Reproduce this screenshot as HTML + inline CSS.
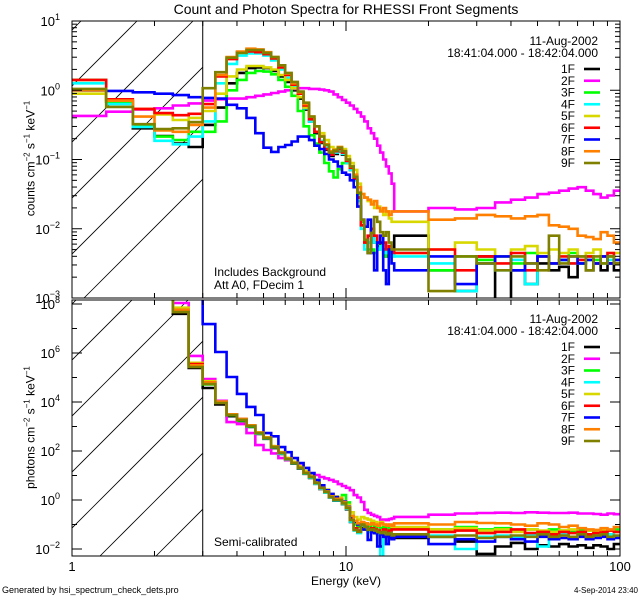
<!DOCTYPE html>
<html><head><meta charset="utf-8"><style>
html,body{margin:0;padding:0;background:#fff}
svg{display:block;font-family:"Liberation Sans",sans-serif}
</style></head><body>
<svg id="c" width="640" height="600" viewBox="0 0 640 600"></svg>
<script>
const colors=["#000000","#ff00ff","#00ff00","#00ffff","#d8d800","#ff0000","#0000ff","#ff8000","#808000"];
const names=["1F","2F","3F","4F","5F","6F","7F","8F","9F"];
// energy bins: 1-15 keV in 1/3 keV steps, 15-100 keV in 5 keV steps
const fineStart=1, fineEnd=15, fineStep=1/3, coarseEnd=100, coarseStep=5;
// top panel: log10 counts cm^-2 s^-1 keV^-1
const top1F=[0.0,-0.16,-0.55,-0.66,-0.77,-0.82,-0.5,-0.25,0.1,0.25,0.32,0.33,0.32,0.28,0.2,0.12,0.0,-0.12,-0.28,-0.45,-0.62,-0.76,-0.86,-0.95,-0.92,-0.88,-0.93,-1.05,-1.15,-1.3,-1.55,-1.95,-2.2,-2.35,-2.1,-2.2,-2.25,-2.2,-2.3,-2.4,-2.3,-2.35,-2.1,-2.6,-2.9,-2.4,-3.1,-2.6,-2.8,-2.5,-2.6,-2.55,-2.7,-2.5,-2.6,-2.5,-2.6,-2.5,-2.6];
const top2F=[-0.37,-0.31,-0.28,-0.26,-0.22,-0.19,-0.15,-0.13,-0.12,-0.12,-0.1,-0.08,-0.06,-0.04,-0.02,0.0,0.02,0.03,0.03,0.02,0.02,0.01,0.0,-0.02,-0.06,-0.1,-0.14,-0.18,-0.22,-0.27,-0.32,-0.38,-0.45,-0.55,-0.62,-0.7,-0.8,-0.9,-1.0,-1.1,-1.2,-1.35,-1.75,-1.7,-1.72,-1.7,-1.62,-1.58,-1.55,-1.5,-1.48,-1.45,-1.42,-1.4,-1.45,-1.5,-1.55,-1.52,-1.45];
const top3F=[0.15,-0.17,-0.5,-0.67,-0.72,-0.6,-0.6,-0.45,0.0,0.15,0.25,0.28,0.27,0.23,0.15,0.05,-0.08,-0.3,-0.52,-0.65,-0.77,-0.9,-1.05,-1.17,-1.26,-1.14,-1.05,-1.05,-1.12,-1.25,-1.5,-1.9,-2.2,-2.3,-2.3,-2.35,-2.3,-2.25,-2.4,-2.3,-2.35,-2.4,-2.35,-2.6,-2.4,-2.45,-2.4,-2.5,-2.35,-2.4,-2.5,-2.45,-2.35,-2.5,-2.4,-2.45,-2.5,-2.4,-2.45];
const top4F=[0.1,-0.2,-0.53,-0.73,-0.78,-0.67,-0.45,0.1,0.38,0.5,0.53,0.53,0.5,0.43,0.3,0.18,0.05,-0.1,-0.26,-0.45,-0.6,-0.73,-0.83,-0.92,-0.9,-0.87,-0.92,-1.05,-1.15,-1.3,-1.6,-2.0,-2.3,-2.2,-2.1,-2.2,-2.3,-2.25,-2.35,-2.3,-2.4,-2.35,-2.4,-2.5,-2.9,-2.5,-2.6,-2.45,-2.8,-2.4,-2.5,-2.45,-2.5,-2.4,-2.45,-2.5,-2.4,-2.45,-2.5];
const top5F=[-0.05,-0.15,-0.27,-0.35,-0.43,-0.4,-0.3,-0.05,0.2,0.3,0.35,0.35,0.33,0.3,0.22,0.15,0.03,-0.1,-0.25,-0.4,-0.52,-0.62,-0.72,-0.82,-0.85,-0.82,-0.85,-0.95,-1.05,-1.15,-1.35,-1.5,-1.55,-1.6,-1.62,-1.7,-1.68,-1.72,-1.8,-1.75,-1.85,-1.9,-1.9,-2.3,-2.2,-2.3,-2.4,-2.3,-2.25,-2.35,-2.3,-2.35,-2.3,-2.4,-2.35,-2.3,-2.4,-2.35,-2.35];
const top6F=[0.15,-0.13,-0.27,-0.33,-0.36,-0.34,-0.2,0.2,0.45,0.55,0.56,0.55,0.52,0.46,0.33,0.22,0.08,-0.05,-0.22,-0.42,-0.6,-0.75,-0.85,-0.93,-0.88,-0.85,-0.9,-1.02,-1.12,-1.28,-1.55,-1.95,-2.2,-2.1,-2.0,-2.1,-2.2,-2.1,-2.2,-2.3,-2.25,-2.3,-2.35,-2.3,-2.6,-2.4,-2.5,-2.35,-2.6,-2.4,-2.5,-2.4,-2.5,-2.45,-2.4,-2.5,-2.4,-2.35,-2.5];
const top7F=[0.0,-0.01,-0.03,-0.05,-0.07,-0.1,-0.11,-0.12,-0.21,-0.26,-0.4,-0.62,-0.83,-0.89,-0.82,-0.79,-0.74,-0.67,-0.67,-0.72,-0.8,-0.85,-0.92,-1.0,-1.03,-1.1,-1.19,-1.22,-1.3,-1.4,-1.68,-1.87,-1.97,-1.87,-2.35,-2.6,-2.2,-2.1,-2.6,-2.8,-2.3,-2.5,-2.6,-2.4,-2.8,-2.5,-2.4,-2.6,-2.5,-2.4,-2.5,-2.45,-2.4,-2.5,-2.45,-2.5,-2.4,-2.5,-2.45];
const top8F=[0.0,-0.15,-0.38,-0.58,-0.6,-0.5,-0.25,0.22,0.48,0.56,0.6,0.59,0.55,0.48,0.36,0.24,0.1,-0.03,-0.2,-0.38,-0.52,-0.66,-0.78,-0.88,-0.86,-0.82,-0.88,-1.0,-1.1,-1.22,-1.4,-1.5,-1.55,-1.58,-1.65,-1.6,-1.7,-1.75,-1.7,-1.75,-1.8,-1.75,-1.75,-1.87,-1.85,-1.8,-1.82,-1.85,-1.82,-1.8,-1.95,-1.97,-2.0,-2.1,-2.12,-2.15,-2.05,-2.1,-2.2];
const top9F=[0.02,-0.24,-0.49,-0.56,-0.55,-0.46,0.03,0.26,0.47,0.54,0.58,0.58,0.54,0.48,0.36,0.25,0.12,-0.02,-0.18,-0.38,-0.52,-0.67,-0.79,-0.9,-0.87,-0.83,-0.88,-1.0,-1.1,-1.25,-1.48,-1.87,-2.16,-2.35,-2.06,-1.83,-1.9,-2.05,-2.1,-2.05,-2.2,-2.3,-2.3,-2.9,-2.4,-2.5,-2.6,-2.4,-2.5,-2.6,-2.1,-2.5,-2.4,-2.4,-2.6,-2.4,-2.5,-2.4,-2.5];
// bottom panel: log10 photons cm^-2 s^-1 keV^-1
const bot1F=[9,9,9,9,7.6,5.39,4.57,3.9,3.42,3.22,2.98,2.7,2.5,2.12,1.88,1.63,1.48,1.28,1.07,0.9,0.66,0.45,0.3,0.1,-0.03,-0.03,-0.17,-0.38,-0.9,-1.2,-1.3,-1.1,-1.2,-1.25,-1.3,-1.35,-1.4,-1.9,-1.5,-1.45,-1.55,-1.6,-1.55,-1.5,-1.7,-2.2,-1.9,-1.75,-2.0,-1.85,-1.9,-1.8,-1.9,-1.85,-1.95,-1.85,-1.9,-2.0,-1.8];
const bot2F=[9,9,9,9,8.04,5.88,4.94,4.05,3.18,3.1,2.73,2.24,2.04,1.9,1.71,1.63,1.51,1.4,1.14,1.08,1.02,0.94,0.88,0.82,0.75,0.65,0.57,0.5,0.4,0.2,0.1,-0.08,-0.4,-0.53,-0.6,-0.65,-0.7,-0.82,-0.8,-0.82,-0.78,-0.75,-0.69,-0.6,-0.55,-0.53,-0.52,-0.53,-0.5,-0.52,-0.53,-0.53,-0.52,-0.55,-0.55,-0.57,-0.6,-0.55,-0.58];
const bot3F=[9,9,9,9,7.7,5.45,4.72,3.97,3.46,3.25,3.0,2.72,2.52,2.15,1.9,1.66,1.5,1.3,1.08,0.92,0.67,0.47,0.3,0.12,0.02,0.1,0.2,-0.1,-0.7,-1.0,-1.1,-0.95,-1.05,-1.1,-1.0,-1.1,-1.05,-1.15,-1.1,-1.2,-1.15,-1.1,-1.15,-1.2,-1.1,-1.2,-1.15,-1.25,-1.2,-1.3,-1.2,-1.25,-1.3,-1.2,-1.25,-1.3,-1.2,-1.25,-1.2];
const bot4F=[9,9,9,9,7.72,5.5,4.75,3.98,3.48,3.28,3.02,2.72,2.52,2.15,1.9,1.66,1.5,1.3,1.08,0.92,0.66,0.46,0.3,0.1,-0.02,-0.02,-0.16,-0.36,-0.88,-1.25,-1.35,-1.05,-1.15,-1.3,-1.25,-1.3,-1.4,-2.4,-1.35,-1.3,-1.4,-1.45,-1.4,-1.45,-2.0,-1.5,-1.45,-1.5,-1.4,-1.9,-1.45,-1.4,-1.5,-1.45,-1.4,-1.5,-1.45,-1.4,-1.5];
const bot5F=[9,9,9,9,7.85,5.6,4.85,4.02,3.5,3.3,3.05,2.76,2.56,2.2,1.96,1.72,1.56,1.38,1.18,1.0,0.76,0.56,0.42,0.24,0.14,0.1,-0.05,-0.2,-0.5,-0.7,-0.8,-0.7,-0.75,-0.8,-0.85,-0.9,-0.95,-0.9,-1.0,-1.0,-1.05,-1.1,-1.1,-1.2,-1.15,-1.25,-1.2,-1.3,-1.2,-1.25,-1.3,-1.25,-1.2,-1.3,-1.25,-1.3,-1.2,-1.25,-1.3];
const bot6F=[9,9,9,9,7.75,5.55,4.8,4.0,3.5,3.3,3.04,2.74,2.54,2.17,1.93,1.68,1.52,1.32,1.11,0.95,0.7,0.5,0.34,0.13,0.02,0.02,-0.12,-0.32,-0.8,-1.15,-1.25,-1.0,-1.1,-1.2,-1.15,-1.2,-1.25,-1.3,-1.2,-1.3,-1.25,-1.2,-1.2,-1.3,-1.25,-1.35,-1.3,-1.2,-1.35,-1.3,-1.4,-1.3,-1.35,-1.3,-1.4,-1.35,-1.3,-1.25,-1.3];
const bot7F=[9,9,9,9,9,9,7.18,6.04,5.02,4.33,3.8,3.47,2.73,2.6,2.16,1.95,1.71,1.51,1.31,1.1,0.82,0.6,0.4,0.25,0.12,0.05,-0.07,-0.28,-0.69,-0.9,-1.0,-1.2,-1.1,-1.63,-1.3,-1.35,-1.9,-1.4,-1.5,-1.8,-1.45,-1.6,-1.5,-1.8,-1.6,-1.7,-1.5,-1.6,-1.7,-1.5,-1.6,-1.55,-1.6,-1.5,-1.6,-1.55,-1.5,-1.6,-1.55];
const bot8F=[9,9,9,9,7.75,5.5,4.8,4.0,3.5,3.3,3.05,2.75,2.55,2.18,1.94,1.69,1.52,1.32,1.12,0.95,0.7,0.5,0.35,0.15,0.05,0.05,-0.1,-0.3,-0.65,-0.85,-0.95,-0.9,-0.95,-1.0,-0.95,-1.0,-1.05,-0.95,-1.0,-1.05,-1.0,-1.05,-0.95,-1.0,-0.9,-0.94,-0.95,-1.0,-1.05,-0.95,-1.0,-1.1,-1.05,-1.15,-1.2,-1.22,-1.15,-1.2,-1.1];
const bot9F=[9,9,9,9,7.67,5.43,4.73,3.96,3.47,3.27,3.02,2.73,2.53,2.16,1.92,1.67,1.51,1.31,1.1,0.94,0.69,0.49,0.33,0.12,0.0,0.0,-0.14,-0.33,-0.82,-1.22,-1.3,-1.0,-1.1,-1.22,-1.2,-1.25,-1.3,-1.35,-1.3,-1.4,-1.35,-1.45,-1.4,-1.5,-1.45,-1.55,-1.5,-1.45,-1.5,-1.4,-1.5,-1.45,-1.5,-1.4,-1.5,-1.45,-1.4,-1.5,-1.45];
const topSeries=[top1F,top2F,top3F,top4F,top5F,top6F,top7F,top8F,top9F];
const botSeries=[bot1F,bot2F,bot3F,bot4F,bot5F,bot6F,bot7F,bot8F,bot9F];
const topTickExp=[1,0,-1,-2,-3];
const botTickExp=[8,6,4,2,0,-2];
const xTickLabels=["1","10","100"];

const NS="http://www.w3.org/2000/svg";
const svg=document.getElementById("c");
function mk(tag,attrs,parent){const e=document.createElementNS(NS,tag);for(const k in attrs)e.setAttribute(k,attrs[k]);(parent||svg).appendChild(e);return e;}
const edges=[];
for(let i=0;i<=Math.round((fineEnd-fineStart)/fineStep);i++)edges.push(fineStart+i*fineStep);
for(let e=fineEnd+coarseStep;e<=coarseEnd+1e-9;e+=coarseStep)edges.push(e);
const X0=72,X1=620;
const xs=e=>X0+(X1-X0)*Math.log10(e)/2;
const panels=[
 {y0:21,y1:298,lmax:1,lmin:-3,series:topSeries,ticks:topTickExp,minor:true,name:"counts-panel"},
 {y0:300,y1:556,lmax:6+53/24.5,lmin:-2-7/24.5,series:botSeries,ticks:botTickExp,minor:false,name:"photons-panel"}
];
panels.forEach((p,pi)=>{
 const ys=l=>p.y0+(p.lmax-l)/(p.lmax-p.lmin)*(p.y1-p.y0);
 const g=mk("g",{});
 
 
 const cid="clip"+pi;
 const cp=mk("clipPath",{id:cid},g);mk("rect",{x:X0,y:p.y0,width:X1-X0,height:p.y1-p.y0},cp);
 const hid="hclip"+pi;
 const hp=mk("clipPath",{id:hid},g);mk("rect",{x:X0,y:p.y0,width:xs(3)-X0,height:p.y1-p.y0},hp);
 // hatching
 const hg=mk("g",{"clip-path":`url(#${hid})`},g);
 
 
 for(let k=-6;k<6;k++){const bx=(pi==0?81:100)+k*56;const H=p.y1-p.y0;
  mk("line",{x1:bx-(pi==0?H:0),y1:pi==0?p.y1:p.y1,x2:bx+(pi==0?0:H),y2:p.y0,stroke:"#000","stroke-width":0.8},hg);}
 // vertical 3 keV line
 const vl=mk("line",{x1:xs(3),x2:xs(3),y1:p.y0,y2:p.y1,stroke:"#000","stroke-width":1},g);
 
 
 // series
 const sg=mk("g",{"clip-path":`url(#${cid})`},g);
 p.series.forEach((arr,si)=>{
  let d="";
  arr.forEach((v,i)=>{const y=ys(v).toFixed(1);const xa=xs(edges[i]).toFixed(1),xb=xs(edges[i+1]).toFixed(1);d+=(i==0?"M":"L")+xa+" "+y+"L"+xb+" "+y;});
  const path=mk("path",{d:d,fill:"none",stroke:colors[si],"stroke-width":2.6,"stroke-linejoin":"miter"},sg);
  
  
 });
 // frame
 mk("rect",{x:X0,y:p.y0,width:X1-X0,height:p.y1-p.y0,fill:"none",stroke:"#000","stroke-width":1},g);
 // x ticks
 for(let dec=0;dec<2;dec++)for(let m=1;m<10;m++){const e=Math.pow(10,dec)*m;const x=xs(e);const L=m==1?10:5;
  if(m==1&&dec==0)continue;
  mk("line",{x1:x,x2:x,y1:p.y1,y2:p.y1-L,stroke:"#000"},g);mk("line",{x1:x,x2:x,y1:p.y0,y2:p.y0+L,stroke:"#000"},g);}
 // y ticks
 for(let l=Math.ceil(p.lmin);l<=Math.floor(p.lmax);l++){
  const y=ys(l);const major=p.ticks.includes(l);const L=major?10:5;
  mk("line",{x1:X0,x2:X0+L,y1:y,y2:y,stroke:"#000"},g);mk("line",{x1:X1,x2:X1-L,y1:y,y2:y,stroke:"#000"},g);
  if(p.minor&&l<p.lmax)for(let m=2;m<10;m++){const yy=ys(l+Math.log10(m));if(yy<p.y0)continue;
   mk("line",{x1:X0,x2:X0+5,y1:yy,y2:yy,stroke:"#000"},g);mk("line",{x1:X1,x2:X1-5,y1:yy,y2:yy,stroke:"#000"},g);}
 }
 p.ticks.forEach(l=>{const y=ys(l);const t=mk("text",{x:60,y:y+5,"font-size":13,"text-anchor":"end"},g);
  t.textContent="10";const s=mk("tspan",{dy:-6,"font-size":9},t);s.textContent=String(l).replace("-","\u2212");
  
  });
 // legend
 const lx=598,ly=p.y0+(pi==0?20:19);
 const lg=mk("g",{},g);
 
 
 const t1=mk("text",{x:lx,y:ly+4,"font-size":12,"text-anchor":"end"},lg);t1.textContent="11-Aug-2002";
 const t2=mk("text",{x:lx,y:ly+16,"font-size":12,"text-anchor":"end"},lg);t2.textContent="18:41:04.000 - 18:42:04.000";
 names.forEach((n,i)=>{const y=ly+28+i*11.75;
  const tt=mk("text",{x:575,y:y+4,"font-size":12,"text-anchor":"end"},lg);tt.textContent=n;
  
  
  mk("line",{x1:584,x2:600,y1:y,y2:y,stroke:colors[i],"stroke-width":2.6},lg);});
});
// x tick labels
[1,10,100].forEach((e,i)=>{const t=mk("text",{x:xs(e),y:571,"font-size":13,"text-anchor":"middle"});t.textContent=xTickLabels[i];
 
 });
</script>
<svg width="0" height="0"></svg>
<div style="position:absolute;left:0;top:0;width:640px;height:600px;pointer-events:none;font-family:'Liberation Sans',sans-serif">
<div style="position:absolute;left:0;width:692px;top:1px;text-align:center;font-size:14px">Count and Photon Spectra for RHESSI Front Segments</div>
<div style="position:absolute;left:-70px;top:151px;width:200px;text-align:center;font-size:12px;transform:rotate(-90deg)">counts cm<sup style="font-size:8px">−2</sup> s<sup style="font-size:8px">−1</sup> keV<sup style="font-size:8px">−1</sup></div>
<div style="position:absolute;left:-70px;top:420px;width:200px;text-align:center;font-size:12px;transform:rotate(-90deg)">photons cm<sup style="font-size:8px">−2</sup> s<sup style="font-size:8px">−1</sup> keV<sup style="font-size:8px">−1</sup></div>
<div style="position:absolute;left:214px;top:266px;font-size:12px;line-height:13px">Includes Background<br>Att A0, FDecim 1</div>
<div style="position:absolute;left:214px;top:535px;font-size:12px">Semi-calibrated</div>
<div style="position:absolute;left:296px;width:100px;text-align:center;top:574px;font-size:12px">Energy (keV)</div>
<div style="position:absolute;left:2px;top:585px;font-size:9px">Generated by hsi_spectrum_check_dets.pro</div>
<div style="position:absolute;right:2px;top:586px;font-size:8px">4-Sep-2014 23:40</div>
</div>
</body></html>
